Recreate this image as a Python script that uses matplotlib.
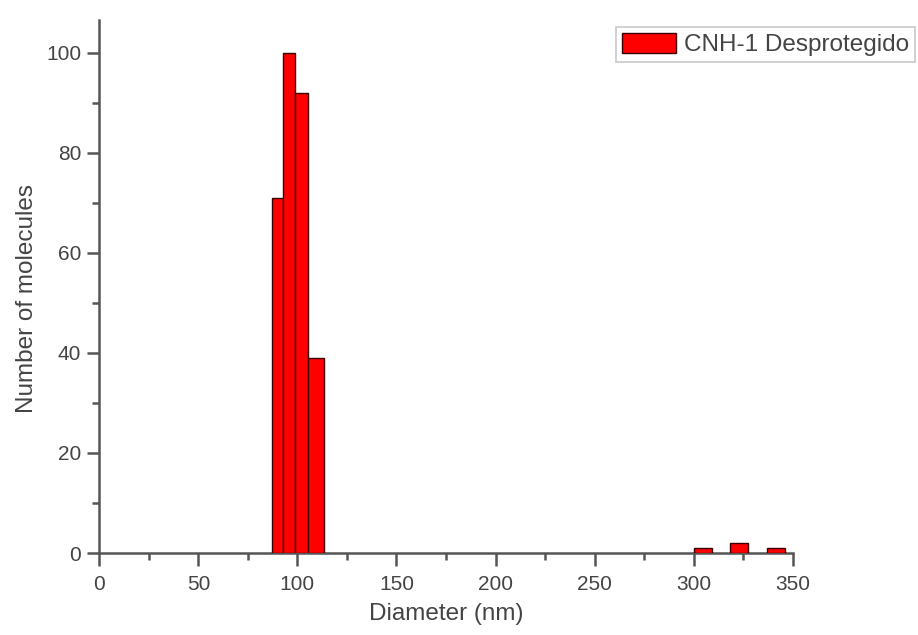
import numpy as np
import matplotlib.pyplot as plt
from matplotlib.ticker import MultipleLocator

plt.rcParams['font.family'] = ['Liberation Sans', 'DejaVu Sans']

# bin left edges, right edges (nm) and counts
left_edges = [87.4, 92.9, 99.0, 105.1, 300.0, 318.2, 337.1]
right_edges = [92.9, 99.0, 105.1, 113.6, 309.3, 327.3, 346.3]
counts = [71, 100, 92, 39, 1, 2, 1]

widths = np.array(right_edges) - np.array(left_edges)

fig = plt.figure(figsize=(9.18, 6.35), dpi=100)
ax = fig.add_axes([0.1082, 0.129, 0.7553, 0.8395])

ax.bar(left_edges, counts, width=widths, align='edge', color='#ff0000',
       edgecolor='#3a0000', linewidth=1.0, label='CNH-1 Desprotegido', zorder=3)

ax.set_xlim(0, 350)
ax.set_ylim(0, 106.5)
ax.xaxis.set_major_locator(MultipleLocator(50))
ax.xaxis.set_minor_locator(MultipleLocator(25))
ax.yaxis.set_major_locator(MultipleLocator(20))
ax.yaxis.set_minor_locator(MultipleLocator(10))

for s in ['top', 'right']:
    ax.spines[s].set_visible(False)
for s in ['left', 'bottom']:
    ax.spines[s].set_color('#555555')
    ax.spines[s].set_linewidth(1.8)

ax.tick_params(which='major', direction='out', length=9, width=1.8, color='#555555',
               labelsize=15, labelcolor='#444444')
ax.tick_params(which='minor', direction='out', length=5, width=1.8, color='#555555')
ax.tick_params(axis='x', which='major', pad=7)
ax.tick_params(axis='y', which='major', pad=4)

ax.set_xlabel('Diameter (nm)', fontsize=17.5, color='#444444', labelpad=6)
ax.set_ylabel('Number of molecules', fontsize=17.5, color='#444444')
ax.yaxis.set_label_coords(-0.088, 0.478)

leg = fig.legend(loc='upper right', bbox_to_anchor=(0.997, 0.958), fontsize=17.5,
                 frameon=True, fancybox=False, handlelength=2.2, handleheight=0.9,
                 borderpad=0.25, handletextpad=0.35, borderaxespad=0)
leg.get_frame().set_edgecolor('#bbbbbb')
leg.get_frame().set_linewidth(1.2)
for t in leg.get_texts():
    t.set_color('#444444')

fig.savefig('out.png', dpi=100)
